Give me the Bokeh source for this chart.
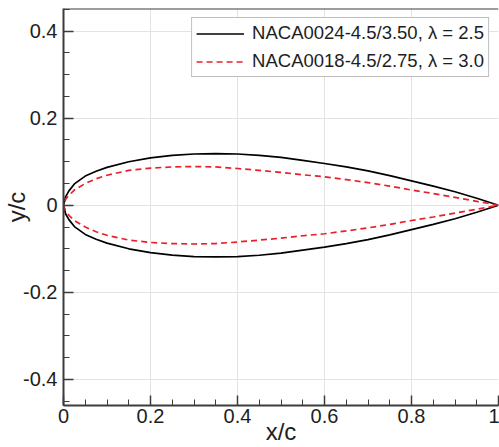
from bokeh.plotting import figure
from bokeh.models import Range1d, Legend, LegendItem, Span, FixedTicker
from bokeh.embed import file_html
from bokeh.resources import INLINE

# chordwise stations (x/c)
x_c = [0.0, 0.005, 0.0125, 0.025, 0.05, 0.075, 0.1, 0.15, 0.2, 0.25, 0.3, 0.35,
       0.4, 0.45, 0.5, 0.55, 0.6, 0.65, 0.7, 0.75, 0.8, 0.85, 0.9, 0.95, 1.0]
# upper-surface half thickness (y/c); lower surface is the mirror image
naca0024_upper = [0.0, 0.020, 0.033, 0.049, 0.067, 0.078, 0.087, 0.100, 0.109, 0.1145,
                  0.1178, 0.1188, 0.1178, 0.1148, 0.110, 0.103, 0.096, 0.088, 0.079,
                  0.068, 0.056, 0.044, 0.031, 0.016, 0.0]
naca0018_upper = [0.0, 0.014, 0.023, 0.035, 0.050, 0.061, 0.069, 0.080, 0.0855, 0.088,
                  0.089, 0.088, 0.0845, 0.080, 0.0755, 0.070, 0.0655, 0.059, 0.052,
                  0.044, 0.035, 0.027, 0.018, 0.009, 0.0]
labels = ["NACA0024-4.5/3.50, \u03bb = 2.5", "NACA0018-4.5/2.75, \u03bb = 3.0"]
x_ticks = [0, 0.2, 0.4, 0.6, 0.8, 1.0]
y_ticks = [-0.4, -0.2, 0, 0.2, 0.4]
x_tick_labels = ["0", "0.2", "0.4", "0.6", "0.8", "1"]
y_tick_labels = ["-0.4", "-0.2", "0", "0.2", "0.4"]


def closed(xs, ys):
    xx = list(reversed(xs)) + xs[1:]
    yy = list(reversed(ys)) + [-v for v in ys[1:]]
    return xx, yy


FONT = "Liberation Sans"
AX = "#3c3c3c"
TXT = "#1e1e1e"

p = figure(width=499, height=447, output_backend="svg", toolbar_location=None,
           x_range=Range1d(0, 1), y_range=Range1d(-0.46, 0.452),
           min_border_left=63, min_border_right=1, min_border_top=8, min_border_bottom=40)
p.outline_line_color = None
p.background_fill_color = "white"

xa, ya = closed(x_c, naca0024_upper)
r1 = p.line(xa, ya, line_color="black", line_width=1.7)
xb, yb = closed(x_c, naca0018_upper)
r2 = p.line(xb, yb, line_color="#e8202a", line_width=1.7, line_dash="6 4")

p.add_layout(Span(location=0.452, dimension="width", line_color=AX, line_width=2))

for ax, ticks in ((p.xaxis[0], x_ticks), (p.yaxis[0], y_ticks)):
    ax.ticker = FixedTicker(ticks=ticks, minor_ticks=[i * 0.05 - 0.5 for i in range(31)])
    ax.axis_line_color = AX
    ax.axis_line_width = 2
    ax.major_tick_in = 10
    ax.major_tick_out = 0
    ax.minor_tick_in = 6
    ax.minor_tick_out = 0
    ax.major_tick_line_color = AX
    ax.minor_tick_line_color = AX
    ax.major_tick_line_width = 1.5
    ax.minor_tick_line_width = 1
    ax.major_label_text_font = FONT
    ax.major_label_text_font_size = "20px"
    ax.major_label_text_color = TXT
    ax.axis_label_text_font = FONT
    ax.axis_label_text_font_size = "24px"
    ax.axis_label_text_font_style = "normal"
    ax.axis_label_text_color = TXT

p.xaxis.axis_label = "x/c"
p.yaxis.axis_label = "y/c"
p.xaxis.major_label_standoff = 3
p.xaxis.axis_label_standoff = -8
p.yaxis.major_label_standoff = 6
p.yaxis.axis_label_standoff = -10
p.xaxis.major_label_overrides = {t: s for t, s in zip(x_ticks, x_tick_labels)}
p.yaxis.major_label_overrides = {t: s for t, s in zip(y_ticks, y_tick_labels)}

p.xgrid.ticker = FixedTicker(ticks=x_ticks)
p.ygrid.ticker = FixedTicker(ticks=y_ticks)
p.grid.grid_line_color = "#e3e3e3"
p.grid.grid_line_width = 1

legend = Legend(items=[LegendItem(label=labels[0], renderers=[r1]),
                       LegendItem(label=labels[1], renderers=[r2])],
                location="top_right", margin=9)
legend.label_text_font = FONT
legend.label_text_font_size = "18.5px"
legend.label_text_color = TXT
legend.glyph_width = 48
legend.label_standoff = 8
legend.padding = 4
legend.spacing = 6
legend.label_height = 21
legend.glyph_height = 21
legend.border_line_color = "#808080"
legend.border_line_width = 1.5
legend.background_fill_alpha = 1
p.add_layout(legend)

open("out.html", "w").write(file_html(p, INLINE))
